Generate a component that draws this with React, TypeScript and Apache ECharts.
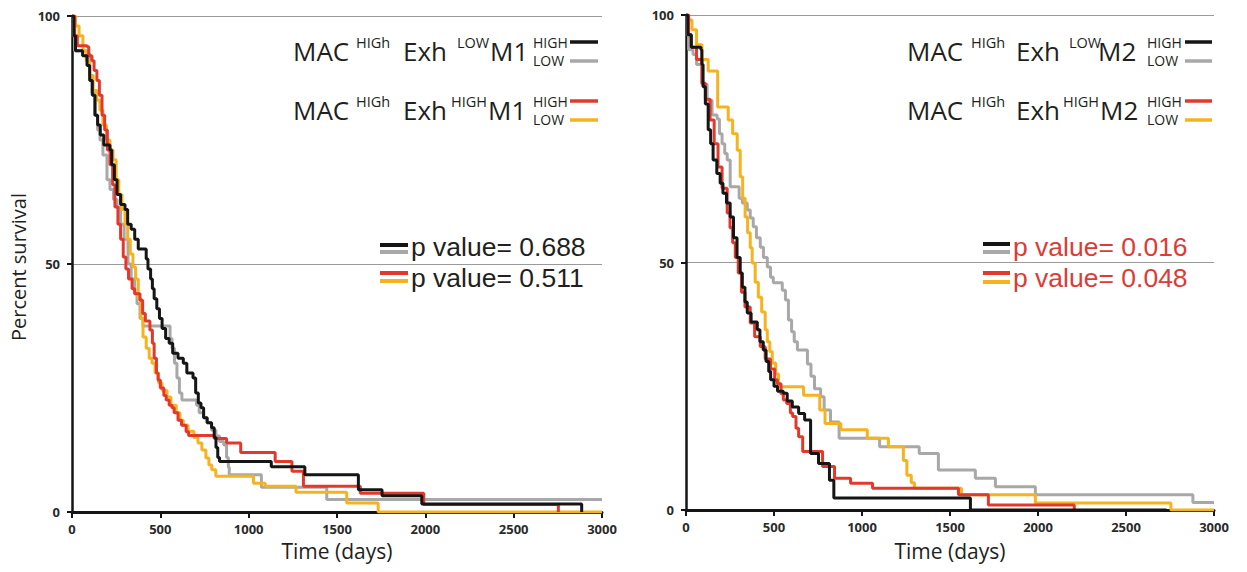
import React, { useEffect, useRef } from "react";
import * as echarts from "echarts";

// ---------- data: [time (days), percent survival] ----------
const leftBlack = [[0,100],[10,96],[20,93],[60,92],[85,90],[100,87],[115,84],[130,80],[145,78],[160,76],[180,74],[215,73],[225,70],[240,67],[255,64],[275,62],[300,61],[315,58],[335,57],[355,55],[375,53],[420,51],[430,49],[445,47],[455,45],[465,43],[480,41],[495,39],[510,37],[530,35],[550,34],[570,32],[600,31],[630,30],[650,28],[685,27],[700,24],[715,22],[730,21],[745,19],[765,18],[790,17],[805,15],[815,13],[825,11],[835,10.2],[1128,9.1],[1318,7.5],[1621,4.5],[1755,3.3],[1980,1.6],[2885,0]];
const leftGray = [[0,100],[8,96],[15,93],[85,92.5],[100,88],[113,84.5],[130,80],[145,77],[158,75],[175,72],[198,67],[215,65],[235,63],[255,61.5],[275,58],[295,55],[317,50],[335,47],[355,44],[368,42],[385,39],[402,37.5],[555,35],[566,33],[580,30],[594,27],[608,24],[622,22.6],[705,21.5],[720,20],[745,19],[765,18],[790,16.5],[815,15.3],[835,14.2],[859,13.5],[875,11],[885,9],[890,7.5],[1072,5],[1442,2.5],[3000,2.5]];
const leftRed = [[0,100],[15,96],[30,94],[85,93.8],[95,92],[113,91],[125,89],[141,87],[155,84],[170,80],[185,77],[200,73],[215,70],[230,66],[243,61.5],[260,58],[275,55],[290,51.4],[305,49],[320,47],[340,45],[355,44],[385,42.7],[400,40],[415,38.5],[441,36.7],[455,34],[465,31],[478,28],[487,26.6],[500,25],[520,23.5],[533,22.6],[550,21.5],[566,21],[578,20],[600,18.5],[620,17.5],[646,16.2],[660,15.4],[805,14.8],[875,13.9],[955,12],[1150,10.2],[1245,8.2],[1310,5.2],[1632,3.8],[1991,1.5],[2753,0]];
const leftYellow = [[0,100],[20,98],[40,96],[62,93],[80,91],[100,88],[120,85],[140,83],[158,81],[175,78],[195,75],[215,73],[232,71],[250,67],[265,64],[283,61],[300,58],[315,55],[330,52],[345,49.4],[360,47],[375,43],[390,39],[402,35.3],[420,33],[437,31],[453,30],[470,28],[490,26],[510,24.5],[538,23.2],[560,21.5],[590,20],[611,18.5],[630,17.5],[657,16.3],[690,15],[713,13.9],[735,12.5],[758,10.9],[775,9.5],[791,8.5],[814,7.2],[1027,5.8],[1094,5.2],[1268,4],[1555,1.8],[1733,0],[3000,0]];

const rightBlack = [[0,100],[10,96],[30,93.5],[85,93],[90,90],[97,85.5],[110,82],[126,76.8],[140,74],[154,70.7],[175,68],[194,66],[210,64],[230,62],[251,59.2],[270,55],[290,51],[308,47.9],[320,45],[335,42],[348,39.8],[370,38],[405,36.4],[420,34],[439,32.3],[455,30],[470,28],[481,26.3],[500,25],[520,24],[553,23.6],[575,22],[604,20.8],[640,19.5],[674,18.2],[708,11.4],[753,9.4],[815,6],[840,2.4],[1616,0],[2730,0]];
const rightGray = [[0,100],[8,96],[15,93],[40,92],[60,90],[90,86],[120,82.8],[148,79.8],[177,79],[190,76],[205,74],[220,72],[234,70.7],[251,65.3],[302,63],[320,62],[348,60.6],[365,59],[382,57.2],[400,55],[422,53.1],[440,51],[462,49.1],[480,47],[496,45.9],[547,44.4],[565,42.4],[582,38.4],[600,36],[615,34],[633,32.3],[690,29.5],[710,27],[730,24.5],[765,22.9],[785,20.2],[821,17.8],[870,14.5],[1100,12.8],[1325,11.4],[1434,8.1],[1644,6.4],[1758,4.7],[1985,3.1],[2880,1.5],[3000,1.5]];
const rightRed = [[0,100],[15,96],[30,93.5],[60,91],[91,86.2],[110,83],[137,78.8],[160,74],[182,69.3],[205,65],[234,60],[250,57],[265,54],[280,51],[297,47.9],[315,44],[335,41],[365,37.8],[390,35],[422,33],[450,30.5],[480,28.5],[504,26.3],[519,25.5],[540,23.5],[553,22.2],[572,21.5],[593,19.6],[606,18.9],[625,16.5],[640,14.8],[663,11.8],[776,8.8],[844,6.4],[935,5.4],[1060,4.4],[1548,3.1],[1718,1],[2206,0]];
const rightYellow = [[0,100],[15,99],[34,97],[60,94],[91,91],[126,88.7],[180,81.4],[240,78.8],[265,76],[291,72.7],[308,67.3],[322,63],[336,59.2],[350,56],[365,53],[376,49.9],[393,46],[411,43],[430,40],[450,36.4],[462,34],[476,32],[490,29.7],[510,27.5],[526,24.9],[668,23.2],[760,20.2],[790,17.5],[880,16.2],[1030,14.5],[1150,12.8],[1235,10],[1255,7],[1280,5.5],[1298,4.4],[1565,3.1],[1985,1.4],[2755,0],[3000,0]];

const pLeft = ["p value= 0.688", "p value= 0.511"];
const pRight = ["p value= 0.016", "p value= 0.048"];

const C_BLACK = "#151515";
const C_GRAY = "#a8a8a8";
const C_RED = "#e2392c";
const C_YELLOW = "#f4b31f";
const C_TEXT = "#231f20";
const C_PRED = "#dc3c35";
const FONT = '"Open Sans", sans-serif';
const PFONT = '"Liberation Sans", Arial, sans-serif';

function txt(x: number, y: number, text: string, size: number, fill = C_TEXT, extra: any = {}) {
  return {
    type: "text", x, y, silent: true,
    style: { text, fontSize: size, fontFamily: FONT, fill, align: "left", verticalAlign: "middle", lineHeight: Math.round(size * 0.9), ...extra },
  };
}
function seg(x1: number, x2: number, y: number, stroke: string, w = 3.5) {
  return { type: "line", silent: true, shape: { x1, y1: y, x2, y2: y }, style: { stroke, lineWidth: w } };
}

function legendBlock(pos: any, mLabel: string) {
  const els: any[] = [];
  const rows = [
    { dy: 0, exh: "LOW", exhX: pos.lowX, mX: pos.m1X, cols: [C_BLACK, C_GRAY] },
    { dy: 59, exh: "HIGH", exhX: pos.highX, mX: pos.m2X, cols: [C_RED, C_YELLOW] },
  ];
  rows.forEach((r) => {
    const y = 51 + r.dy;
    els.push(txt(pos.macX, y, "MAC", 26));
    els.push(txt(pos.supX, y - 9, "HIGh", 14.5));
    els.push(txt(pos.exhX0, y, "Exh", 26));
    els.push(txt(r.exhX, y - 9, r.exh, 14.5));
    els.push(txt(r.mX, y, mLabel, 26));
    els.push(txt(pos.smallX, y - 9, "HIGH", 14));
    els.push(txt(pos.smallX, y + 9, "LOW", 14));
    els.push(seg(pos.lineX1, pos.lineX2, y - 9, r.cols[0]));
    els.push(seg(pos.lineX1, pos.lineX2, y + 10, r.cols[1]));
  });
  return els;
}

export default function App() {
  const ref = useRef<HTMLDivElement>(null);
  useEffect(() => {
    if (!ref.current) return;
    const chart = echarts.init(ref.current, undefined, { renderer: "svg" });
    const grids = [
      { left: 72, top: 16, width: 530, height: 496 },
      { left: 686, top: 15, width: 528, height: 495 },
    ];
    const mkX = (i: number) => ({
      type: "value", gridIndex: i, min: 0, max: 3000, interval: 500,
      axisLine: { show: true, onZero: false, lineStyle: { color: C_BLACK, width: 3 } },
      axisTick: { show: true, length: 6, lineStyle: { color: C_BLACK, width: 2 } },
      axisLabel: { margin: 10, fontSize: 13, fontWeight: "bold", color: "#2a2a2a", fontFamily: FONT, formatter: (v: number) => String(v) },
      splitLine: { show: false },
    });
    const mkY = (i: number) => ({
      type: "value", gridIndex: i, min: 0, max: 100, interval: 50,
      axisLine: { show: true, lineStyle: { color: C_BLACK, width: 2.5 } },
      axisTick: { show: true, length: 5, lineStyle: { color: C_BLACK, width: 2 } },
      axisLabel: { margin: 12, fontSize: 13, fontWeight: "bold", color: "#2a2a2a", fontFamily: FONT },
      splitLine: { show: true, lineStyle: { color: "#9a9a9a", width: 1 } },
    });
    const mkS = (data: number[][], color: string, i: number) => ({
      type: "line", step: "end", data, xAxisIndex: i, yAxisIndex: i,
      showSymbol: false, symbol: "none", lineStyle: { color, width: 3 }, itemStyle: { color },
      silent: true,
    });
    const pStyle = { fontFamily: PFONT, lineHeight: 26 };

    const graphic: any[] = [
      txt(18, 267, "Percent survival", 20, C_TEXT, { align: "center" }),
      txt(337, 551, "Time (days)", 21, C_TEXT, { align: "center" }),
      txt(950, 551, "Time (days)", 21, C_TEXT, { align: "center" }),
      ...legendBlock({ macX: 293, supX: 356, exhX0: 403, lowX: 457, highX: 451, m1X: 490, m2X: 488, smallX: 533, lineX1: 570, lineX2: 598 }, "M1"),
      ...legendBlock({ macX: 907, supX: 971, exhX0: 1016, lowX: 1069, highX: 1063, m1X: 1098, m2X: 1100, smallX: 1147, lineX1: 1185, lineX2: 1212 }, "M2"),
      seg(380, 408, 245, C_BLACK, 4), seg(380, 408, 252, C_GRAY, 4),
      seg(380, 408, 273, C_RED, 4), seg(380, 408, 281, C_YELLOW, 4),
      txt(411, 247, pLeft[0], 26.5, C_TEXT, pStyle),
      txt(411, 277.5, pLeft[1], 26.5, C_TEXT, pStyle),
      seg(983, 1010, 244, C_BLACK, 4), seg(983, 1010, 252, C_GRAY, 4),
      seg(983, 1010, 273, C_RED, 4), seg(983, 1010, 282, C_YELLOW, 4),
      txt(1013, 247, pRight[0], 26.5, C_PRED, pStyle),
      txt(1013, 277.5, pRight[1], 26.5, C_PRED, pStyle),
    ];
    graphic[0].rotation = Math.PI / 2;

    chart.setOption({
      animation: false,
      backgroundColor: "#ffffff",
      grid: grids,
      xAxis: [mkX(0), mkX(1)],
      yAxis: [mkY(0), mkY(1)],
      series: [
        mkS(leftGray, C_GRAY, 0), mkS(leftYellow, C_YELLOW, 0), mkS(leftRed, C_RED, 0), mkS(leftBlack, C_BLACK, 0),
        mkS(rightGray, C_GRAY, 1), mkS(rightYellow, C_YELLOW, 1), mkS(rightRed, C_RED, 1), mkS(rightBlack, C_BLACK, 1),
      ],
      graphic,
    });
    return () => chart.dispose();
  }, []);
  return <div ref={ref} style={{ position: "fixed", left: 0, top: 0, width: 1247, height: 572, background: "#fff" }} />;
}
